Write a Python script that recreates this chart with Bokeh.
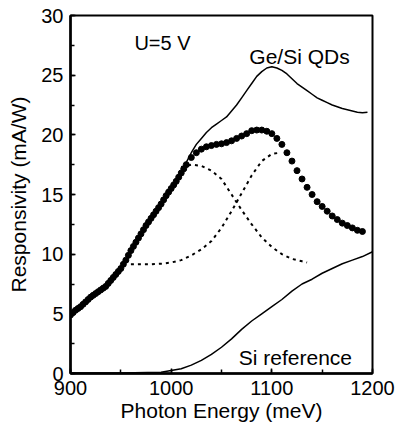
from bokeh.plotting import figure
from bokeh.models import SingleIntervalTicker, Range1d
from bokeh.core.properties import value
from bokeh.embed import file_html
from bokeh.resources import INLINE

# Measured Ge/Si QDs photoresponse (dots)
dots_x = [900, 902.5, 905, 907.5, 910, 912.5, 915, 917.5, 920, 922.5, 925, 927.5, 930, 932.5,
          935, 937.5, 940, 942.5, 945, 947.5, 950, 952.5, 955, 957.5, 960, 962.5, 965, 967.5,
          970, 972.5, 975, 977.5, 980, 982.5, 985, 987.5, 990, 992.5, 995, 997.5, 1000,
          1002.5, 1005, 1007.5, 1010, 1012.5, 1015, 1020, 1025, 1030, 1035, 1040,
          1045, 1050, 1055, 1060, 1065, 1070, 1075, 1080, 1085, 1090, 1095, 1100, 1105,
          1110, 1115, 1120, 1125, 1130, 1135, 1140, 1145, 1150, 1155, 1160, 1165, 1170,
          1175, 1180, 1185, 1190]
dots_y = [4.9, 5.1, 5.3, 5.45, 5.6, 5.8, 6.0, 6.2, 6.4, 6.55, 6.7, 6.85, 7.0, 7.15,
          7.3, 7.55, 7.8, 8.05, 8.3, 8.55, 8.8, 9.15, 9.5, 9.9, 10.3, 10.65, 11.0, 11.35,
          11.7, 12.05, 12.4, 12.7, 13.0, 13.3, 13.6, 13.9, 14.2, 14.55, 14.9, 15.2, 15.5,
          15.8, 16.1, 16.45, 16.8, 17.15, 17.5, 18.1, 18.5, 18.8, 19.0, 19.1,
          19.2, 19.25, 19.35, 19.5, 19.7, 19.9, 20.1, 20.35, 20.4, 20.4, 20.3, 20.1, 19.7,
          19.2, 18.5, 17.8, 17.0, 16.3, 15.6, 15.0, 14.4, 14.0, 13.6, 13.2, 12.9, 12.6,
          12.4, 12.2, 12.0, 11.9]

# Ge/Si QDs solid curve
qd_x = [900, 920, 940, 950, 960, 970, 980, 990, 1000, 1010, 1015, 1020, 1025, 1030, 1035,
        1040, 1045, 1050, 1055, 1060, 1065, 1070, 1075, 1080, 1085, 1090, 1095, 1100, 1105,
        1110, 1115, 1120, 1125, 1130, 1135, 1140, 1145, 1150, 1155, 1160, 1165, 1170, 1175,
        1180, 1185, 1190, 1195]
qd_y = [4.9, 6.4, 7.8, 8.8, 10.3, 11.7, 13.0, 14.2, 15.5, 16.9, 17.7, 18.5, 19.2, 19.7, 20.2,
        20.6, 20.9, 21.2, 21.5, 22.0, 22.5, 23.1, 23.7, 24.3, 24.9, 25.3, 25.6, 25.7, 25.6,
        25.4, 25.1, 24.7, 24.3, 24.0, 23.7, 23.4, 23.1, 22.9, 22.7, 22.5, 22.35, 22.2, 22.1,
        22.0, 21.9, 21.85, 21.9]

# Gaussian fit components (dotted)
g1_x = [1010, 1020, 1030, 1040, 1050, 1060, 1070, 1080, 1090, 1100, 1110, 1120, 1130, 1135]
g1_y = [17.3, 17.5, 17.4, 17.0, 16.3, 15.0, 13.7, 12.5, 11.4, 10.6, 10.0, 9.6, 9.4, 9.3]
g2_x = [960, 970, 980, 990, 1000, 1010, 1020, 1030, 1040, 1050, 1060, 1070, 1080, 1090, 1100, 1108]
g2_y = [9.15, 9.15, 9.15, 9.2, 9.3, 9.5, 9.9, 10.4, 11.1, 12.2, 13.6, 15.1, 16.6, 17.8, 18.4, 18.5]

# Si reference
si_x = [900, 950, 990, 1000, 1010, 1020, 1030, 1040, 1050, 1060, 1070, 1080, 1090, 1100,
        1110, 1120, 1130, 1140, 1150, 1160, 1170, 1180, 1190, 1200]
si_y = [0.05, 0.05, 0.1, 0.25, 0.4, 0.7, 1.1, 1.6, 2.2, 2.9, 3.7, 4.4, 5.0, 5.6,
        6.2, 6.9, 7.5, 7.9, 8.4, 8.8, 9.2, 9.5, 9.8, 10.2]

labels = ["U=5 V", "Ge/Si QDs", "Si reference"]

FONT = "Liberation Sans"

p = figure(width=396, height=432, output_backend="svg", toolbar_location=None,
           x_range=Range1d(900, 1200), y_range=Range1d(0, 30),
           min_border_left=70, min_border_right=24, min_border_top=15, min_border_bottom=59)

p.xgrid.visible = False
p.ygrid.visible = False
p.outline_line_color = "black"
p.outline_line_width = 2
p.outline_line_alpha = 1
p.background_fill_color = "white"
p.border_fill_color = "white"

p.xaxis.ticker = SingleIntervalTicker(interval=100, num_minor_ticks=2)
p.yaxis.ticker = SingleIntervalTicker(interval=5, num_minor_ticks=2)
for ax in (p.xaxis, p.yaxis):
    ax.axis_line_width = 2.5
    ax.axis_line_color = "black"
    ax.major_tick_in = 5
    ax.major_tick_out = 0
    ax.minor_tick_in = 4
    ax.minor_tick_out = 0
    ax.major_tick_line_width = 1.5
    ax.minor_tick_line_width = 1.5
    ax.major_tick_line_color = "black"
    ax.minor_tick_line_color = "black"
    ax.major_label_text_font = FONT
    ax.major_label_text_font_size = "20px"
    ax.major_label_text_color = "black"
    ax.axis_label_text_font = FONT
    ax.axis_label_text_font_size = "21px"
    ax.axis_label_text_font_style = "normal"
    ax.axis_label_text_color = "black"
    ax.major_label_standoff = 7

p.xaxis.axis_label = "Photon Energy (meV)"
p.yaxis.axis_label = "Responsivity (mA/W)"
p.xaxis.axis_label_standoff = 1
p.yaxis.axis_label_standoff = 8

p.line(si_x, si_y, line_color="black", line_width=1.5)
p.line(qd_x, qd_y, line_color="black", line_width=1.5)
p.line(g1_x, g1_y, line_color="black", line_width=2, line_dash="3 4")
p.line(g2_x, g2_y, line_color="black", line_width=2, line_dash="3 4")
p.scatter(dots_x, dots_y, size=6, marker="circle", fill_color="black", line_color="black")

p.text(x=[963.5], y=[27.66], text=[labels[0]], text_font=value(FONT), text_font_size="20px",
       text_align="left", text_baseline="alphabetic", text_color="black")
p.text(x=[1127.5], y=[26.6], text=[labels[1]], text_font=value(FONT), text_font_size="21px",
       text_align="center", text_baseline="alphabetic", text_color="black")
p.text(x=[1123.4], y=[1.37], text=[labels[2]], text_font=value(FONT), text_font_size="21px",
       text_align="center", text_baseline="alphabetic", text_color="black")

open("out.html", "w").write(file_html(p, INLINE))
